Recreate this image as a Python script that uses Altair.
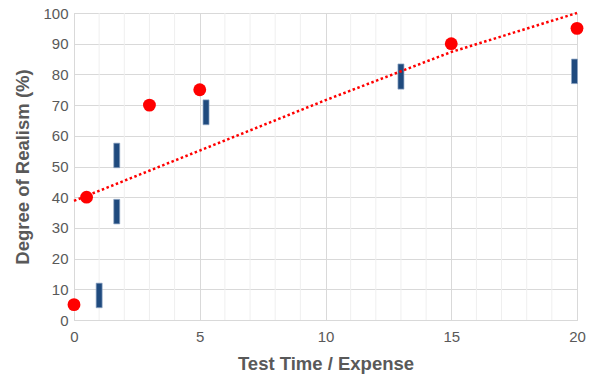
import altair as alt
import pandas as pd

# Red points
pt_x = [0, 0.5, 3, 5, 15, 20]
pt_y = [5, 40, 70, 75, 90, 95]

# Blue bars (ranges)
bar_x = [1, 1.7, 1.7, 5.25, 13, 19.9]
bar_lo = [4, 31.3, 49.6, 63.6, 75.2, 77]
bar_hi = [12, 39.3, 57.6, 71.7, 83.4, 85]

# Trend line
tr_x = [0, 5, 10, 15, 20]
tr_y = [38.8, 55.2, 71.6, 87.3, 100]

# Minor x gridlines
minor_x = [v for v in range(1, 20) if v % 5 != 0]

FONT = "Liberation Sans"
GREY = "#595959"

pts = pd.DataFrame({"x": pt_x, "y": pt_y})
bars = pd.DataFrame({"x": bar_x, "lo": bar_lo, "hi": bar_hi})
trend = pd.DataFrame({"x": tr_x, "y": tr_y})
minor = pd.DataFrame({"x": minor_x})

xscale = alt.Scale(domain=[0, 20], nice=False, zero=False, padding=0)
yscale = alt.Scale(domain=[0, 100], nice=False, padding=0)

xaxis = alt.Axis(values=[0, 5, 10, 15, 20], title="Test Time / Expense", grid=True,
                 gridColor="#d9d9d9", domainColor="#d9d9d9", ticks=False, labelFlush=False,
                 labelFontSize=15, labelColor=GREY, labelFont=FONT, labelPadding=9,
                 titleFontSize=18.5, titleFont=FONT, titleColor=GREY, titleFontWeight="bold",
                 titlePadding=10)
yaxis = alt.Axis(values=list(range(0, 101, 10)), title="Degree of Realism (%)", grid=True,
                 gridColor="#d9d9d9", domainColor="#d9d9d9", ticks=False, labelFlush=False,
                 labelFontSize=15, labelColor=GREY, labelFont=FONT, labelPadding=6,
                 titleFontSize=18.5, titleFont=FONT, titleColor=GREY, titleFontWeight="bold",
                 titlePadding=10)

minor_layer = alt.Chart(minor).mark_rule(color="#efefef", strokeWidth=1).encode(
    x=alt.X("x:Q", scale=xscale, axis=xaxis)
)

bar_layer = alt.Chart(bars).mark_bar(size=6, color="#1F4A7E", stroke="#8FA6C4", strokeWidth=0.7).encode(
    x=alt.X("x:Q", scale=xscale, axis=xaxis),
    y=alt.Y("lo:Q", scale=yscale, axis=yaxis),
    y2="hi:Q",
)

trend_layer = alt.Chart(trend).mark_line(color="#FF0000", strokeWidth=2.5, strokeDash=[2.5, 2.5]).encode(
    x=alt.X("x:Q", scale=xscale, axis=xaxis),
    y=alt.Y("y:Q", scale=yscale, axis=yaxis),
)

pt_layer = alt.Chart(pts).mark_circle(color="#FF0000", opacity=1, size=165).encode(
    x=alt.X("x:Q", scale=xscale, axis=xaxis),
    y=alt.Y("y:Q", scale=yscale, axis=yaxis),
)

chart = alt.layer(minor_layer, bar_layer, trend_layer, pt_layer).properties(
    width=503, height=307,
    autosize=alt.AutoSizeParams(type="none"),
    padding={"left": 74, "top": 13, "right": 23, "bottom": 66},
).configure_view(stroke=None).configure(background="white")

chart.save("out.html", embed_options={"renderer": "svg", "actions": False})
